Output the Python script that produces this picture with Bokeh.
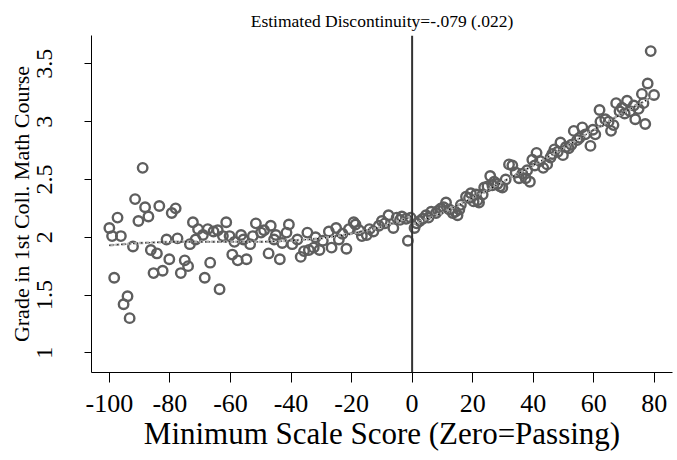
from bokeh.plotting import figure
from bokeh.models import Span, FixedTicker
from bokeh.embed import file_html
from bokeh.resources import INLINE

# ---- data ----
left_x = [-100, -99.1, -98.4, -97.3, -96.2, -95.3, -94, -93.3, -92.2, -91.5, -90.4, -89, -88.2, -87.1,
          -86.3, -85.4, -84.3, -83.5, -82.4, -81.1, -80.2, -79.4, -78.1, -77.5, -76.4, -75.1, -74, -73.4,
          -72.4, -71.5, -70.7, -69.1, -68.5, -67.5, -66.7, -65.6, -64.2, -63.6, -62.5, -61.4, -60.3, -59.4,
          -58.7, -57.6, -56.5, -55.7, -54.7, -53.5, -52.6, -51.6, -49.9, -48.9, -47.4, -46.7, -45.6, -45,
          -43.7, -42.9, -41.5, -40.7, -39.6, -37.9, -36.8, -35.7, -34.6, -34.1, -32.5, -31.9, -30.6, -29.5,
          -27.5, -26.6, -25.1, -24.2, -21.7, -20.9, -19.3, -18.7, -16.6, -14.1, -12.8, -10, -7.8, -6.2,
          -5.1, -3.4, -1.4, -23, -17.5, -15, -11, -9, -4, -2, -0.5]
left_y = [2.08, 2.01, 1.65, 2.17, 2.01, 1.42, 1.49, 1.30, 1.92, 2.33, 2.14, 2.60, 2.26, 2.18,
          1.89, 1.69, 1.86, 2.27, 1.71, 1.98, 1.81, 2.21, 2.25, 1.99, 1.69, 1.80, 1.75, 1.94,
          2.13, 1.98, 2.07, 2.02, 1.65, 2.07, 1.78, 2.05, 2.06, 1.55, 2.01, 2.13, 2.01, 1.85,
          1.96, 1.80, 2.02, 1.98, 1.81, 1.94, 2.01, 2.12, 2.04, 2.06, 1.86, 2.10, 1.98, 2.02,
          1.81, 1.95, 2.04, 2.11, 1.94, 1.98, 1.83, 1.88, 2.04, 1.89, 1.91, 2.00, 1.89, 1.97,
          2.05, 1.91, 2.08, 1.98, 1.90, 2.07, 2.13, 2.11, 2.01, 2.07, 2.05, 2.14, 2.19, 2.08,
          2.17, 2.18, 1.97, 2.03, 2.06, 2.02, 2.10, 2.12, 2.15, 2.16, 2.17]

right_x = [0.8, 2.5, 4.6, 6.3, 7.9, 9.5, 11.2, 13.4, 15, 16.1, 17.8, 19.4, 21.1, 22.1, 23.8, 25.8,
           26.5, 29, 30.9, 32, 33.1, 35.3, 37.5, 38, 38.9, 39.7, 41.1, 43.3, 44.6, 45.7, 47, 49,
           49.8, 51.7, 53.4, 54.5, 56.2, 57.2, 58.9, 60.5, 61.9, 62.2, 63.8, 64.9, 65.7, 66.5, 67.4,
           68.5, 69.3, 71, 72, 73.2, 73.7, 74.8, 75.9, 77, 77.8, 78.8, 79.9,
           1.5, 3.5, 5.4, 8.6, 10.4, 12.3, 14.2, 15.6, 18.8, 20.3, 21.6, 23.3, 24.9, 27.1, 28.2, 29.8,
           34.2, 36.4, 40.5, 42.2, 46.3, 48.1, 50.8, 52.6, 55.3, 59.7, 70.2, 76.4]
right_y = [2.08, 2.14, 2.19, 2.22, 2.21, 2.25, 2.30, 2.21, 2.19, 2.28, 2.35, 2.38, 2.37, 2.30, 2.43, 2.53,
           2.45, 2.44, 2.50, 2.63, 2.62, 2.51, 2.51, 2.58, 2.48, 2.67, 2.73, 2.60, 2.63, 2.69, 2.76, 2.82,
           2.71, 2.77, 2.92, 2.84, 2.95, 2.89, 2.79, 2.89, 3.10, 3.00, 3.02, 3.00, 2.92, 2.97, 3.16,
           3.09, 3.12, 3.18, 3.09, 3.14, 3.02, 3.11, 3.24, 2.98, 3.33, 3.61, 3.23,
           2.12, 2.16, 2.17, 2.23, 2.26, 2.24, 2.22, 2.24, 2.34, 2.31, 2.32, 2.37, 2.44, 2.48, 2.46, 2.43,
           2.56, 2.55, 2.62, 2.66, 2.72, 2.74, 2.78, 2.80, 2.86, 2.93, 3.07, 3.16]

fit_left_x = [-100, -90, -80, -70, -60, -50, -40, -30, -20, -10, 0]
fit_left_y = [1.93, 1.95, 1.96, 1.96, 1.96, 1.96, 1.97, 1.99, 2.03, 2.09, 2.18]
fit_right_x = [0, 10, 20, 30, 40, 50, 60, 70, 79]
fit_right_y = [2.11, 2.21, 2.34, 2.48, 2.62, 2.77, 2.93, 3.08, 3.21]

x_ticks = [-100, -80, -60, -40, -20, 0, 20, 40, 60, 80]
x_tick_labels = ["-100", "-80", "-60", "-40", "-20", "0", "20", "40", "60", "80"]
y_ticks = [1, 1.5, 2, 2.5, 3, 3.5]
y_tick_labels = ["1", "1.5", "2", "2.5", "3", "3.5"]

title_text = "Estimated Discontinuity=-.079 (.022)"
x_label = "Minimum Scale Score (Zero=Passing)"
y_label = "Grade in 1st Coll. Math Course"

FONT = "Liberation Serif"

p = figure(frame_width=581, frame_height=337, output_backend="svg", toolbar_location=None,
           x_range=(-105.9, 86), y_range=(0.83, 3.745),
           min_border_left=91, min_border_right=5, min_border_top=35, min_border_bottom=88)
p.width = 677
p.height = 460

p.title.text = title_text
p.title.align = "center"
p.title.text_font = FONT
p.title.text_font_size = "17.5px"
p.title.text_font_style = "normal"
p.title.text_color = "black"

p.outline_line_color = None
p.grid.visible = False
p.background_fill_color = "white"

# scatter
p.scatter(left_x, left_y, marker="circle", size=9.5, fill_color=None, line_color="#5e5e5e", line_width=2.4)
p.scatter(right_x, right_y, marker="circle", size=9.5, fill_color=None, line_color="#5e5e5e", line_width=2.4)

# fit lines
for fx, fy in [(fit_left_x, fit_left_y), (fit_right_x, fit_right_y)]:
    p.line(fx, fy, line_color="#a8a8a8", line_width=2.5, line_dash="4 2")
    p.line(fx, fy, line_color="black", line_width=1.2, line_dash="1 3")

p.add_layout(Span(location=0, dimension="height", line_color="#333333", line_width=2))

# axes
p.xaxis.ticker = FixedTicker(ticks=x_ticks)
p.yaxis.ticker = FixedTicker(ticks=y_ticks)
p.xaxis.major_label_overrides = dict(zip(x_ticks, x_tick_labels))
p.yaxis.major_label_overrides = dict(zip(y_ticks, y_tick_labels))
for ax in (p.xaxis, p.yaxis):
    ax.axis_line_color = "black"
    ax.axis_line_width = 1
    ax.major_tick_line_color = "black"
    ax.major_tick_in = 0
    ax.minor_tick_line_color = None
    ax.major_label_text_font = FONT
    ax.major_label_text_color = "black"
    ax.axis_label_text_font = FONT
    ax.axis_label_text_font_style = "normal"
    ax.axis_label_text_color = "black"

p.xaxis.major_tick_out = 10
p.xaxis.major_label_text_font_size = "26px"
p.xaxis.major_label_standoff = 12
p.xaxis.axis_label = x_label
p.xaxis.axis_label_text_font_size = "31px"
p.xaxis.axis_label_standoff = 1

p.yaxis.major_tick_out = 7
p.yaxis.major_label_orientation = "vertical"
p.yaxis.major_label_text_font_size = "24px"
p.yaxis.major_label_standoff = 32
p.yaxis.axis_label = y_label
p.yaxis.axis_label_text_font_size = "22px"
p.yaxis.axis_label_standoff = 1

open("out.html", "w").write(file_html(p, INLINE))
